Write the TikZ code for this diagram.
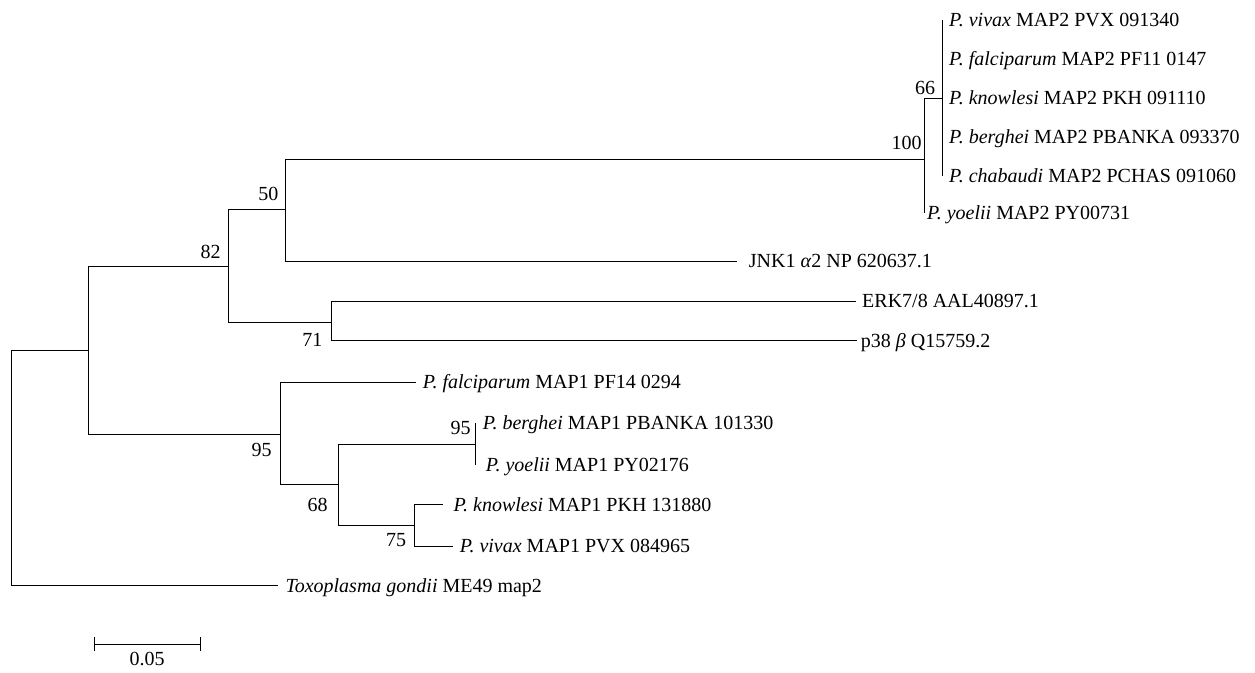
\documentclass[tikz,border=0pt]{standalone}
\usepackage{fontspec}
\setmainfont{Liberation Serif}

\tikzset{
    blatt/.style={anchor=west, inner xsep=7pt, inner ysep=0pt, text height=13pt, text depth=0pt},
    wert/.style={inner sep=0pt, text height=13pt, text depth=0pt},
    ast/.style={line width=1pt}
}

\begin{document}
\begin{tikzpicture}[x=1pt, y=-1pt, font=\fontsize{20}{24}\selectfont]
    \useasboundingbox (0,0) rectangle (1255,672);
    \path coordinate (wurzel) at (11,350)
        coordinate (kA) at (88,350)
        coordinate (k82) at (228,266)
        coordinate (k50) at (285,209)
        coordinate (k100) at (924,159)
        coordinate (k66) at (942,98)
        coordinate (k71) at (331.7,322)
        coordinate (k95) at (280,434)
        coordinate (k68) at (338.3,484)
        coordinate (k95b) at (475.7,444.3)
        coordinate (k75) at (414,525.3);
    \path node[blatt] (viv2) at (942,20) {\textit{P. vivax} MAP2 PVX 091340}
        node[blatt] (fal2) at (942,59) {\textit{P. falciparum} MAP2 PF11 0147}
        node[blatt] (kno2) at (942,98) {\textit{P. knowlesi} MAP2 PKH 091110}
        node[blatt] (ber2) at (942,137) {\textit{P. berghei} MAP2 PBANKA 093370}
        node[blatt] (cha2) at (942,176) {\textit{P. chabaudi} MAP2 PCHAS 091060}
        node[blatt, inner xsep=3pt] (yoe2) at (924,213) {\textit{P. yoelii} MAP2 PY00731}
        node[blatt, inner xsep=12pt] (jnk) at (736.7,261) {JNK1 \textit{α}2 NP 620637.1}
        node[blatt, inner xsep=6pt] (erk) at (856,301) {ERK7/8 AAL40897.1}
        node[blatt, inner xsep=4pt] (p38) at (856.7,340.5) {p38 \textit{β} Q15759.2}
        node[blatt] (fal1) at (415.7,382) {\textit{P. falciparum} MAP1 PF14 0294}
        node[blatt] (ber1) at (475.7,423) {\textit{P. berghei} MAP1 PBANKA 101330}
        node[blatt, inner xsep=10pt] (yoe1) at (475.7,465) {\textit{P. yoelii} MAP1 PY02176}
        node[blatt, inner xsep=10pt] (kno1) at (443.3,504.7) {\textit{P. knowlesi} MAP1 PKH 131880}
        node[blatt] (viv1) at (452.7,546) {\textit{P. vivax} MAP1 PVX 084965}
        node[blatt] (toxo) at (278.3,585.7) {\textit{Toxoplasma gondii} ME49 map2};
    \path node[wert] (w82) at (210.7,252.3) {82}
        node[wert] (w50) at (268.3,194) {50}
        node[wert] (w100) at (906.7,143.3) {100}
        node[wert] (w66) at (925,88.3) {66}
        node[wert] (w71) at (312.3,340) {71}
        node[wert] (w95) at (261.7,450) {95}
        node[wert] (w68) at (317.7,505) {68}
        node[wert] (w95b) at (460.7,428.3) {95}
        node[wert] (w75) at (396,540) {75};
    \draw[ast] (wurzel) |- (kA);
    \draw[ast] (wurzel) |- (toxo.west);
    \draw[ast] (kA) |- (k82);
    \draw[ast] (kA) |- (k95);
    \draw[ast] (k82) |- (k50);
    \draw[ast] (k82) |- (k71);
    \draw[ast] (k50) |- (k100);
    \draw[ast] (k50) |- (jnk.west);
    \draw[ast] (k100) |- (k66);
    \draw[ast] (k100) |- (yoe2.west);
    \foreach \b in {viv2,fal2,kno2,ber2,cha2}
        \draw[ast] (k66) |- (\b.west);
    \draw[ast] (k71) |- (erk.west);
    \draw[ast] (k71) |- (p38.west);
    \draw[ast] (k95) |- (fal1.west);
    \draw[ast] (k95) |- (k68);
    \draw[ast] (k68) |- (k95b);
    \draw[ast] (k68) |- (k75);
    \draw[ast] (k95b) |- (ber1.west);
    \draw[ast] (k95b) |- (yoe1.west);
    \draw[ast] (k75) |- (kno1.west);
    \draw[ast] (k75) |- (viv1.west);
    \path coordinate (s1) at (94.3,644)
        coordinate (s2) at (200,644)
        node[wert] (skala) at (147,659) {0.05};
    \draw[ast] (s1) -- (s2);
    \draw[ast] ([yshift=-7pt]s1) -- ([yshift=7pt]s1);
    \draw[ast] ([yshift=-7pt]s2) -- ([yshift=7pt]s2);
\end{tikzpicture}
\end{document}
